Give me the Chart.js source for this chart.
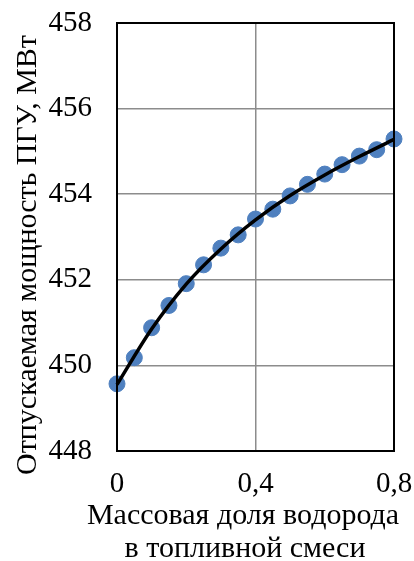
<!DOCTYPE html>
<html>
<head>
<meta charset="utf-8">
<script src="https://cdn.jsdelivr.net/npm/chart.js@4"></script>
<style>
  body { margin: 0; background: #fff; }
  #wrap { width: 414px; height: 561px; }
</style>
</head>
<body>
<div id="wrap"><canvas id="grafik"></canvas></div>
<script>
// массовая доля водорода
const h2Share = [0, 0.05, 0.1, 0.15, 0.2, 0.25, 0.3, 0.35, 0.4, 0.45, 0.5, 0.55, 0.6, 0.65, 0.7, 0.75, 0.8];
// отпускаемая мощность, МВт
const power = [449.57, 450.18, 450.88, 451.40, 451.91, 452.35, 452.74, 453.05, 453.42, 453.65, 453.96, 454.23, 454.47, 454.69, 454.89, 455.04, 455.29];
// линия тренда
const trendX = [0, 0.1, 0.2, 0.3, 0.4, 0.5, 0.6, 0.7, 0.8];
const trendY = [449.55, 450.85, 451.90, 452.72, 453.40, 453.97, 454.45, 454.88, 455.28];
const xTicks = [0, 0.4, 0.8];
const yTicks = [448, 450, 452, 454, 456, 458];
const yTitle = "Отпускаемая мощность ПГУ, МВт";
const xTitle = ["Массовая доля водорода", "в топливной смеси"];

const font = "'Liberation Serif', 'Times New Roman', serif";
const pts = h2Share.map((x, i) => ({ x: x, y: power[i] }));
const trend = trendX.map((x, i) => ({ x: x, y: trendY[i] }));

// рамка вокруг поля графика и подписи осей
const frame = {
  id: "frame",
  afterDatasetsDraw(c) {
    const a = c.chartArea;
    const ctx = c.ctx;
    ctx.save();
    ctx.strokeStyle = "#000";
    ctx.lineWidth = 2;
    ctx.strokeRect(a.left, a.top, a.right - a.left, a.bottom - a.top);
    ctx.restore();
  },
  afterDraw(c) {
    const ctx = c.ctx;
    ctx.save();
    ctx.font = "30px " + font;
    ctx.fillStyle = "#000";
    ctx.textAlign = "center";
    ctx.textBaseline = "alphabetic";
    ctx.fillText(xTitle[0], 243, 524);
    ctx.fillText(xTitle[1], 245, 557);
    ctx.translate(28, 255);
    ctx.rotate(-Math.PI / 2);
    ctx.textBaseline = "middle";
    ctx.fillText(yTitle, 0, 0);
    ctx.restore();
  },
};

new Chart(document.querySelector("#grafik"), {
  type: "scatter",
  data: {
    datasets: [
      {
        data: trend,
        showLine: true,
        borderColor: "#000",
        borderWidth: 3.5,
        pointRadius: 0,
        cubicInterpolationMode: "monotone",
        clip: false,
        order: 0,
      },
      {
        data: pts,
        backgroundColor: "#4f80bf",
        borderColor: "#4f80bf",
        pointRadius: 8,
        clip: false,
        order: 1,
      },
    ],
  },
  options: {
    responsive: true,
    maintainAspectRatio: false,
    animation: false,
    layout: { padding: { top: 23, right: 20, left: 48, bottom: 0 } },
    plugins: { legend: { display: false }, tooltip: { enabled: false } },
    scales: {
      x: {
        type: "linear",
        min: xTicks[0],
        max: xTicks[xTicks.length - 1],
        afterBuildTicks: (s) => { s.ticks = xTicks.map((v) => ({ value: v })); },
        afterFit: (s) => { s.height = 110; s.paddingLeft = 0; s.paddingRight = 0; },
        ticks: {
          color: "#000",
          font: { family: font, size: 29 },
          padding: 16,
          maxRotation: 0,
          callback: (v) => String(v).replace(".", ","),
        },
        grid: { color: "#8c8c8c", lineWidth: 1.5, drawTicks: false },
        border: { color: "#000", width: 2 },
      },
      y: {
        min: yTicks[0],
        max: yTicks[yTicks.length - 1],
        afterBuildTicks: (s) => { s.ticks = yTicks.map((v) => ({ value: v })); },
        afterFit: (s) => { s.width = 69; s.paddingTop = 0; s.paddingBottom = 0; },
        ticks: {
          color: "#000",
          font: { family: font, size: 29 },
          padding: 25,
        },
        grid: { color: "#8c8c8c", lineWidth: 1.5, drawTicks: false },
        border: { color: "#000", width: 2 },
      },
    },
  },
  plugins: [frame],
});
</script>
</body>
</html>
